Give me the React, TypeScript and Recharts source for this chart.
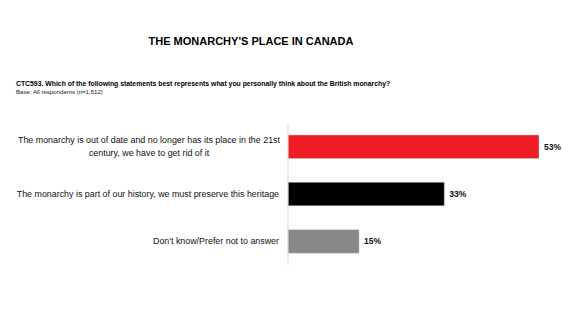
import React from 'react';
import { BarChart, Bar, XAxis, YAxis, Cell, LabelList } from 'recharts';

const categories = [
  'The monarchy is out of date and no longer has its place in the 21st|century, we have to get rid of it',
  'The monarchy is part of our history, we must preserve this heritage',
  "Don't know/Prefer not to answer",
];
const values = [53, 33, 15];
const colors = ['#ee1c25', '#000000', '#878787'];

const data = categories.map((c, i) => ({ name: c, value: values[i] }));

const FONT = "'Liberation Sans', Arial, sans-serif";

const CatTick = (props: any) => {
  const { y, payload } = props;
  const lines = String(payload.value).split('|');
  const lh = 12.5;
  const start = -((lines.length - 1) * lh) / 2;
  const multi = lines.length > 1;
  return (
    <text x={279} y={y} fontFamily={FONT} fontSize={8.9} fill="#111" textAnchor={multi ? 'middle' : 'end'}>
      {lines.map((l, i) => (
        <tspan key={i} x={multi ? 149 : 279} dy={i === 0 ? start + 3 : lh}>
          {l}
        </tspan>
      ))}
    </text>
  );
};

export default function App() {
  return (
    <div style={{ position: 'absolute', left: 0, top: 0, width: 569, height: 319, background: '#fff', fontFamily: FONT }}>
      <div style={{ position: 'absolute', left: 0, top: 35, width: 502, textAlign: 'center', fontWeight: 700, fontSize: 11, color: '#000' }}>
        THE MONARCHY'S PLACE IN CANADA
      </div>
      <div style={{ position: 'absolute', left: 16, top: 80, fontWeight: 700, fontSize: 6.85, color: '#000', whiteSpace: 'nowrap' }}>
        CTC593. Which of the following statements best represents what you personally think about the British monarchy?
      </div>
      <div style={{ position: 'absolute', left: 16, top: 88, fontSize: 6.1, color: '#222', whiteSpace: 'nowrap' }}>
        Base: All respondents (n=1,512)
      </div>
      <div style={{ position: 'absolute', left: 0, top: 0 }}>
        <BarChart
          width={569}
          height={319}
          data={data}
          layout="vertical"
          margin={{ top: 123, bottom: 54, left: 0, right: 30 }}
        >
          <XAxis type="number" domain={[0, 53]} hide />
          <YAxis
            type="category"
            dataKey="name"
            width={288}
            axisLine={{ stroke: '#d9d9d9' }}
            tickLine={false}
            tick={<CatTick />}
            interval={0}
          />
          <Bar dataKey="value" isAnimationActive={false} barSize={23.5} stroke="#c8c8c8" strokeWidth={0.5}>
            {data.map((d, i) => (
              <Cell key={i} fill={colors[i]} />
            ))}
            <LabelList
              dataKey="value"
              position="right"
              offset={5}
              formatter={(v: any) => `${v}%`}
              style={{ fontFamily: FONT, fontSize: 8.5, fontWeight: 700, fill: '#111' }}
            />
          </Bar>
        </BarChart>
      </div>
    </div>
  );
}
